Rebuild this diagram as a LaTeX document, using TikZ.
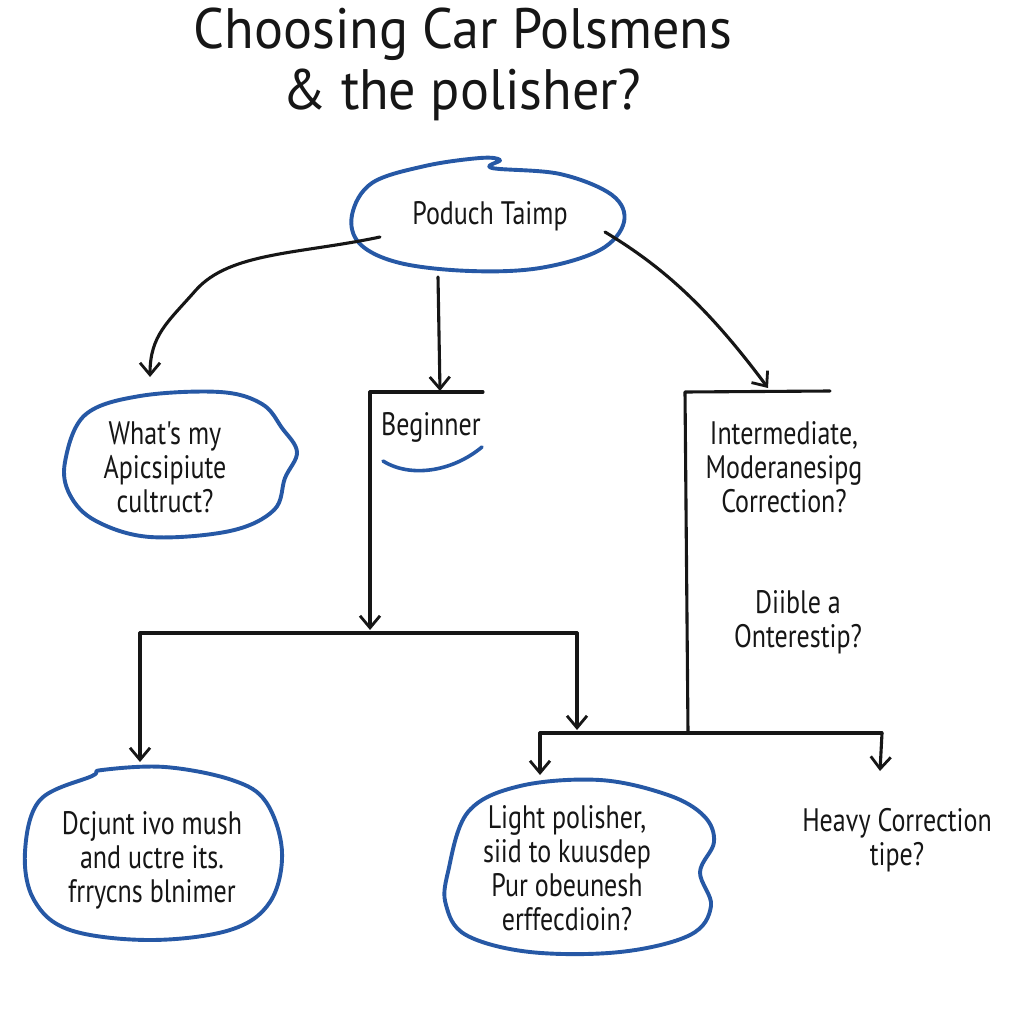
\documentclass[tikz,border=0pt]{standalone}
\usepackage{fontspec}
\setmainfont{PT Sans}
\newfontfamily\hand[FakeStretch=0.8]{PT Sans}
\newfontfamily\handtitle[FakeStretch=0.95]{PT Sans}
\usetikzlibrary{arrows.meta}
\definecolor{blobblue}{RGB}{38,88,165}
\definecolor{ink}{RGB}{22,22,22}
\tikzset{
  blob/.style={draw=blobblue, line width=3.9pt, line join=round},
  wire/.style={draw=ink, line width=3.1pt, line cap=round, line join=round},
  arr/.style={wire, -{Straight Barb[length=12pt,width=20pt,line width=2.8pt]}},
  txt/.style={font=\hand\fontsize{32.5}{34}\selectfont, text=ink, align=center, inner sep=0pt},
  ttl/.style={font=\handtitle\fontsize{57}{62}\selectfont, text=ink, align=center, inner sep=0pt},
}
\begin{document}
\begin{tikzpicture}[x=1pt,y=-1pt]
\useasboundingbox (0,0) rectangle (1024,1024);
\fill[white] (0,0) rectangle (1024,1024);

% title
\node[ttl] (t1) at (463,34) {Choosing Car Polsmens};
\node[ttl] (t2) at (462,95) {\& the polisher?};

% top blob
\draw[blob] plot[smooth cycle, tension=0.6] coordinates {(352,215) (372,183) (425,166) (480,158) (500,160) (492,168) (560,174) (612,195) (624,222) (600,250) (540,268) (470,271) (400,263) (360,244)};
\node[txt] (top) at (490,216) {Poduch Taimp};

% left blob
\draw[blob] plot[smooth cycle, tension=0.6] coordinates {(65,462) (85,415) (140,396) (220,392) (262,404) (282,428) (297,452) (285,478) (274,510) (230,531) (150,537) (96,521) (70,495)};
\node[txt] (what) at (165,467) {What's my\\Apicsipiute\\cultruct?};

% beginner
\node[txt, anchor=west] (beg) at (381,427) {Beginner};
\coordinate (swA) at (383,461);
\coordinate (swB) at (482,447);
\draw[blobblue, line width=3.6pt, line cap=round] (swA) .. controls (410,478) and (452,472) .. (swB);

% intermediate texts
\node[txt] (inter) at (784,467) {Intermediate,\\Moderanesipg\\Correction?};
\node[txt] (diible) at (798,622) {Diible a\\Onterestip?};

% bottom-left blob
\draw[blob] plot[smooth cycle, tension=0.6] coordinates {(25,852) (40,800) (92,776) (102,770) (165,767) (232,780) (266,802) (282,852) (270,902) (230,930) (150,940) (70,930) (34,900)};
\node[txt] (dcj) at (152,860) {Dcjunt ivo mush\\and uctre its.\\frrycns blnimer};

% bottom-middle blob
\draw[blob] plot[smooth cycle, tension=0.6] coordinates {(448,872) (468,812) (520,786) (600,780) (668,795) (704,816) (714,842) (700,872) (711,906) (690,935) (620,952) (530,952) (466,935) (446,905)};
\node[txt] (light) at (567,868) {Light polisher,\\siid to kuusdep\\Pur obeunesh\\erffecdioin?};

% heavy
\node[txt] (heavy) at (897,840) {Heavy Correction\\tipe?};

% connector coordinates
\coordinate (topL) at (380,237);
\coordinate (whatT) at (150,377);
\coordinate (topB) at (438,277);
\coordinate (begT) at (440,391);
\coordinate (topR) at (605,232);
\coordinate (intT) at (768,388);

\coordinate (bl) at (370,392);
\coordinate (br) at (483,392);
\coordinate (bdown) at (370,630);

\coordinate (il) at (685,392);
\coordinate (ir) at (830,391);
\coordinate (idown) at (688,733);

\coordinate (h1l) at (140,633);
\coordinate (h1r) at (577,633);
\coordinate (h1ld) at (140,762);
\coordinate (h1rd) at (577,730);

\coordinate (h2l) at (540,733);
\coordinate (h2r) at (882,733);
\coordinate (h2ld) at (540,775);
\coordinate (h2rd) at (880,771);

% connectors
\draw[arr] (topL) .. controls (300,254) and (230,252) .. (196,290) .. controls (168,322) and (150,335) .. (whatT);
\draw[arr] (topB) -- (begT);
\draw[arr] (topR) .. controls (665,268) and (710,310) .. (intT);

\draw[wire] (br) -- (bl);
\draw[arr] (bl) -- (bdown);

\draw[wire] (ir) -- (il) -- (idown);

\draw[wire] (h1l) -- (h1r);
\draw[arr] (h1l) -- (h1ld);
\draw[arr] (h1r) -- (h1rd);

\draw[wire] (h2l) -- (h2r);
\draw[arr] (h2l) -- (h2ld);
\draw[arr] (h2r) -- (h2rd);
\end{tikzpicture}
\end{document}
